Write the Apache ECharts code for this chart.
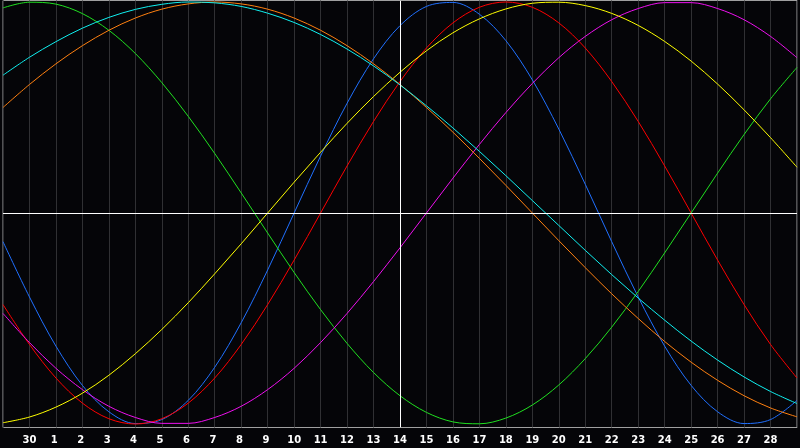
<!DOCTYPE html>
<html>
<head>
<meta charset="utf-8">
<style>
  html, body { margin: 0; padding: 0; background: #050508; }
  #chart { width: 800px; height: 448px; }
</style>
<script src="https://cdn.jsdelivr.net/npm/echarts@6/dist/echarts.min.js"></script>
</head>
<body>
<div id="chart"></div>
<script>
// Day labels along the x axis (first and last positions are unlabeled edges)
const days = ['29','30','1','2','3','4','5','6','7','8','9','10','11','12','13','14','15','16','17','18','19','20','21','22','23','24','25','26','27','28','29'];

// Values (range -1 .. 1), one per day position
const physical = [-0.136,-0.398,-0.631,-0.817,-0.942,-0.998,-0.979,-0.888,-0.731,-0.520,-0.270,0.000,0.270,0.520,0.731,0.888,0.979,0.998,0.942,0.817,0.631,0.398,0.136,-0.136,-0.398,-0.631,-0.817,-0.942,-0.998,-0.979,-0.888];
const emotional = [-0.434,-0.623,-0.782,-0.901,-0.975,-1.000,-0.975,-0.901,-0.782,-0.623,-0.434,-0.223,0.000,0.223,0.434,0.623,0.782,0.901,0.975,1.000,0.975,0.901,0.782,0.623,0.434,0.223,0.000,-0.223,-0.434,-0.623,-0.782];
const intellectual = [0.972,0.999,0.990,0.945,0.866,0.756,0.618,0.458,0.282,0.095,-0.095,-0.282,-0.458,-0.618,-0.756,-0.866,-0.945,-0.990,-0.999,-0.972,-0.910,-0.815,-0.690,-0.541,-0.372,-0.189,0.000,0.189,0.372,0.541,0.690];
const intuitive = [-0.476,-0.614,-0.736,-0.837,-0.916,-0.969,-0.997,-0.997,-0.969,-0.916,-0.837,-0.736,-0.614,-0.476,-0.325,-0.165,0.000,0.165,0.325,0.476,0.614,0.736,0.837,0.916,0.969,0.997,0.997,0.969,0.916,0.837,0.736];
const aesthetic = [-0.994,-0.967,-0.920,-0.854,-0.769,-0.667,-0.552,-0.425,-0.288,-0.146,0.000,0.146,0.288,0.425,0.552,0.667,0.769,0.854,0.920,0.967,0.994,0.999,0.983,0.946,0.889,0.813,0.720,0.611,0.489,0.357,0.217];
const awareness = [0.500,0.609,0.707,0.793,0.866,0.924,0.966,0.991,1.000,0.991,0.966,0.924,0.866,0.793,0.707,0.609,0.500,0.383,0.259,0.131,0.000,-0.131,-0.259,-0.383,-0.500,-0.609,-0.707,-0.793,-0.866,-0.924,-0.966];
const spiritual = [0.653,0.738,0.812,0.876,0.927,0.965,0.989,1.000,0.996,0.979,0.947,0.903,0.846,0.777,0.697,0.607,0.508,0.403,0.292,0.177,0.059,-0.059,-0.177,-0.292,-0.403,-0.508,-0.607,-0.697,-0.777,-0.846,-0.903];

const todayIndex = 15;

const chart = echarts.init(document.getElementById('chart'), null, { renderer: 'canvas' });

function curve(name, data, color) {
  return {
    name: name,
    type: 'line',
    data: data,
    smooth: 0.3333,
    symbol: 'none',
    z: 3,
    silent: true,
    lineStyle: { color: color, width: 1 },
    emphasis: { disabled: true }
  };
}

chart.setOption({
  backgroundColor: '#050508',
  animation: false,
  grid: {
    left: 0.5, top: 0.5, width: 800, height: 427,
    show: true, borderColor: '#a0a0a0', borderWidth: 1,
    backgroundColor: '#050508'
  },
  xAxis: {
    type: 'category',
    data: days,
    boundaryGap: false,
    axisLine: { show: false },
    axisTick: { show: false },
    axisLabel: {
      interval: 0,
      color: '#ffffff',
      fontFamily: 'DejaVu Sans',
      fontWeight: 'bold',
      fontSize: 10,
      margin: 8,
      formatter: function (v, i) {
        if (i === 0 || i === days.length - 1) return '';
        return v.length === 1 ? v + ' ' : v;
      }
    },
    splitLine: { show: true, lineStyle: { color: '#303033', width: 1 } }
  },
  yAxis: {
    type: 'value',
    min: -1.0166,
    max: 1.0071,
    axisLine: { show: false },
    axisTick: { show: false },
    axisLabel: { show: false },
    splitLine: { show: false }
  },
  series: [
    {
      type: 'line',
      data: [],
      z: 1,
      silent: true,
      markLine: {
        silent: true,
        symbol: 'none',
        label: { show: false },
        lineStyle: { color: '#ffffff', width: 1, type: 'solid' },
        emphasis: { disabled: true },
        data: [{ xAxis: todayIndex }, { yAxis: 0 }]
      }
    },
    curve('Physical', physical, '#2070ff'),
    curve('Emotional', emotional, '#ff0000'),
    curve('Intellectual', intellectual, '#20e020'),
    curve('Intuitive', intuitive, '#ee10ee'),
    curve('Aesthetic', aesthetic, '#ffff00'),
    curve('Awareness', awareness, '#ff8010'),
    curve('Spiritual', spiritual, '#10f0f0')
  ]
});
</script>
</body>
</html>
